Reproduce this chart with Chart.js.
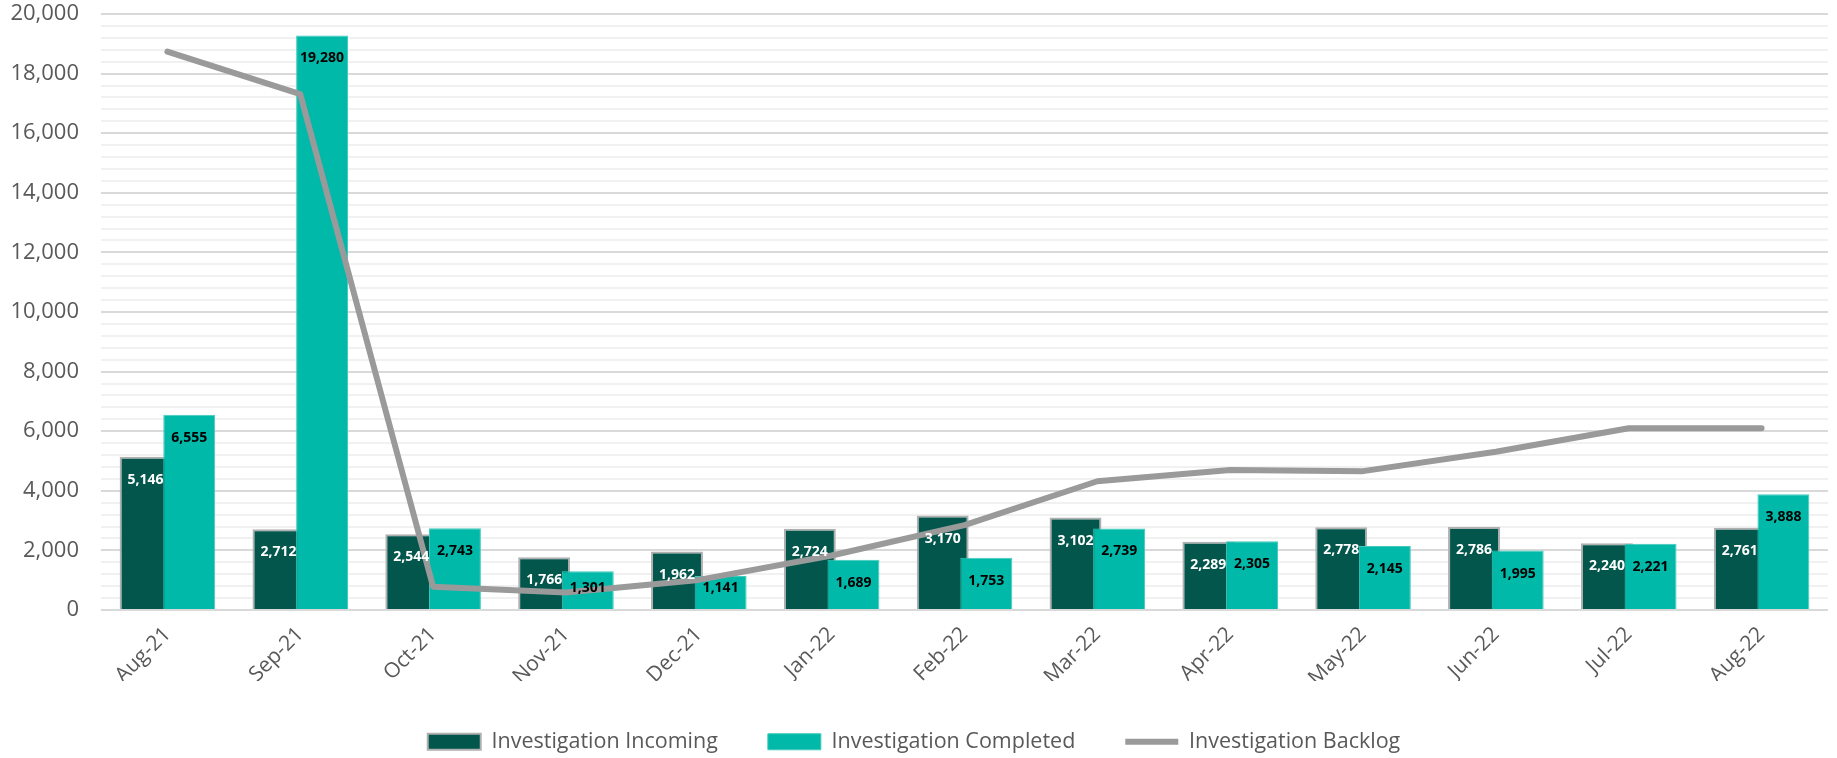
<!DOCTYPE html>
<html>
<head>
<meta charset="utf-8">
<script src="https://cdn.jsdelivr.net/npm/chart.js@4.4.1/dist/chart.umd.min.js"></script>
<style>
  html, body { margin: 0; padding: 0; background: #fff; }
  #investigations { display: block; }
</style>
</head>
<body>
<canvas id="investigations" width="1837" height="758"></canvas>
<script>
const months = ["Aug-21", "Sep-21", "Oct-21", "Nov-21", "Dec-21", "Jan-22", "Feb-22",
  "Mar-22", "Apr-22", "May-22", "Jun-22", "Jul-22", "Aug-22"];
const incoming = [5146, 2712, 2544, 1766, 1962, 2724, 3170, 3102, 2289, 2778, 2786, 2240, 2761];
const completed = [6555, 19280, 2743, 1301, 1141, 1689, 1753, 2739, 2305, 2145, 1995, 2221, 3888];
const backlog = [18740, 17310, 780, 590, 1010, 1830, 2850, 4320, 4700, 4660, 5310, 6100, 6100];

const TEXT_GREY = "#595959";
const FONT = "'Open Sans', sans-serif";

// Completed bars overlap the incoming ones, so draw them after the incoming set.
const overlapOrder = {
  id: "overlapOrder",
  beforeDatasetDraw(chart, args) {
    if (args.index === 1) return false;
  },
  afterDatasetDraw(chart, args) {
    if (args.index === 0) {
      chart.getDatasetMeta(1).controller.draw();
    }
  },
};

// value labels inside the top of each bar
const barLabels = {
  id: "barLabels",
  afterDatasetsDraw(chart) {
    const ctx = chart.ctx;
    ctx.save();
    ctx.font = "bold 14px " + FONT;
    ctx.textAlign = "center";
    ctx.textBaseline = "middle";
    [0, 1].forEach((di) => {
      const meta = chart.getDatasetMeta(di);
      const values = chart.data.datasets[di].data;
      ctx.fillStyle = di === 0 ? "#ffffff" : "#000000";
      meta.data.forEach((bar, i) => {
        const y = Math.min(bar.y + 23, bar.base - 21);
        ctx.fillText(values[i].toLocaleString("en-US"), bar.x, y);
      });
    });
    ctx.restore();
  },
};

const ctx = document.getElementById("investigations").getContext("2d");

new Chart(ctx, {
  type: "bar",
  data: {
    labels: months,
    datasets: [
      {
        label: "Investigation Incoming",
        data: incoming,
        backgroundColor: "#02564b",
        borderColor: "#b0b0b0",
        borderWidth: 2,
        categoryPercentage: 0.657,
        barPercentage: 1.19,
      },
      {
        label: "Investigation Completed",
        data: completed,
        backgroundColor: "#00b9a9",
        borderColor: "#3fcabb",
        borderWidth: 1,
        categoryPercentage: 0.657,
        barPercentage: 1.19,
      },
      {
        type: "line",
        label: "Investigation Backlog",
        data: backlog,
        borderColor: "#9a9a9a",
        backgroundColor: "#9a9a9a",
        borderWidth: 6,
        borderCapStyle: "round",
        borderJoinStyle: "round",
        pointRadius: 0,
        tension: 0,
        order: -1,
      },
    ],
  },
  options: {
    responsive: false,
    animation: false,
    layout: {
      padding: { top: 14, right: 9, bottom: 0, left: 0 },
    },
    plugins: {
      tooltip: { enabled: false },
      legend: {
        position: "bottom",
        maxHeight: 77,
        labels: {
          usePointStyle: true,
          pointStyleWidth: 53,
          boxHeight: 16,
          padding: 50,
          color: TEXT_GREY,
          font: { family: FONT, size: 21.5 },
          sort: (a, b) => a.datasetIndex - b.datasetIndex,
          generateLabels(chart) {
            const items = Chart.defaults.plugins.legend.labels.generateLabels(chart);
            return items.map((item) => {
              item.pointStyle = item.datasetIndex === 2 ? "line" : "rect";
              return item;
            });
          },
        },
      },
    },
    scales: {
      x: {
        grid: { display: false },
        border: { display: false },
        ticks: {
          color: TEXT_GREY,
          font: { family: FONT, size: 21 },
          minRotation: 45,
          maxRotation: 45,
          autoSkip: false,
          padding: 4,
        },
        afterFit(scale) {
          scale.height = 71;
        },
      },
      y: {
        min: 0,
        max: 20000,
        border: { display: false },
        grid: {
          drawTicks: false,
          lineWidth: 2,
          color: (c) => (c.tick && c.tick.value % 2000 === 0 ? "#d9d9d9" : "#f1f1f1"),
        },
        ticks: {
          stepSize: 400,
          autoSkip: false,
          color: TEXT_GREY,
          font: { family: FONT, size: 22 },
          padding: 22,
          callback: (v) => (v % 2000 === 0 ? v.toLocaleString("en-US") : ""),
        },
        afterFit(scale) {
          scale.width = 101;
          scale.paddingTop = 0;
          scale.paddingBottom = 0;
        },
      },
    },
  },
  plugins: [overlapOrder, barLabels],
});
</script>
</body>
</html>
